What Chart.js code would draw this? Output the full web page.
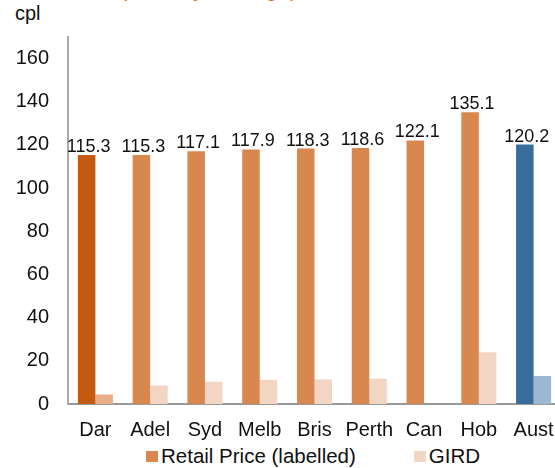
<!DOCTYPE html>
<html>
<head>
<meta charset="utf-8">
<script src="https://cdn.jsdelivr.net/npm/chart.js@4"></script>
<style>
html, body { margin: 0; padding: 0; overflow: hidden; background: #fff; }
body { width: 555px; height: 468px; position: relative; font-family: "Liberation Sans", Arial, sans-serif; }
#wrap { position: absolute; left: 0; top: 0; width: 561px; height: 442px; }
.txt { position: absolute; white-space: nowrap; }
#title { left: 120px; top: -22px; font-size: 22px; line-height: 22px; color: #e46c0a; }
#unit { left: 15px; top: 3px; font-size: 20px; line-height: 20px; color: #111; }
#legend { left: 146px; top: 446px; font-size: 20.5px; line-height: 20px; color: #111; display: flex; align-items: center; }
#legend span.box { display: inline-block; width: 12px; height: 11px; margin-right: 3px; }
</style>
</head>
<body>
<div id="title" class="txt">(monthly average)</div>
<div id="unit" class="txt">cpl</div>
<div id="wrap"><canvas id="bars"></canvas></div>
<div id="legend" class="txt"></div>
<script>
// data
var cities = ['Dar', 'Adel', 'Syd', 'Melb', 'Bris', 'Perth', 'Can', 'Hob', 'Aust'];
var retailPrice = [115.3, 115.3, 117.1, 117.9, 118.3, 118.6, 122.1, 135.1, 120.2];
var gird = [4.4, 8.6, 10.3, 11.2, 11.4, 11.7, null, 24.0, 13.0];
var yTicks = [0, 20, 40, 60, 80, 100, 120, 140, 160];

// colours
var retailColours = ['#c55a11', '#d8874f', '#d8874f', '#d8874f', '#d8874f', '#d8874f', '#d8874f', '#d8874f', '#386c9b'];
var girdColours = ['#e8ae87', '#f2d5c2', '#f2d5c2', '#f2d5c2', '#f2d5c2', '#f2d5c2', '#f2d5c2', '#f2d5c2', '#9db8d3'];
var font = '"Liberation Sans", Arial, sans-serif';

// value labels over the retail bars
var barLabels = {
	id: 'barLabels',
	afterDatasetsDraw: function(chart) {
		var ctx = chart.ctx;
		var meta = chart.getDatasetMeta(0);
		ctx.save();
		ctx.font = '18px ' + font;
		ctx.fillStyle = '#111';
		ctx.textAlign = 'center';
		ctx.textBaseline = 'alphabetic';
		meta.data.forEach(function(bar, i) {
			ctx.fillText(retailPrice[i].toFixed(1), bar.x + 2, bar.y - 3);
		});
		ctx.restore();
	}
};

var ctx = document.getElementById('bars');
var myChart = new Chart(ctx, {
	type: 'bar',
	data: {
		labels: cities,
		datasets: [{
			label: 'Retail Price (labelled)',
			data: retailPrice,
			backgroundColor: retailColours,
			borderWidth: 0
		}, {
			label: 'GIRD',
			data: gird,
			backgroundColor: girdColours,
			borderWidth: 0
		}]
	},
	plugins: [barLabels],
	options: {
		responsive: true,
		maintainAspectRatio: false,
		animation: false,
		categoryPercentage: 0.64,
		barPercentage: 1.0,
		layout: { padding: { left: 15, top: 37, right: 0, bottom: 0 } },
		plugins: {
			legend: { display: false },
			tooltip: { enabled: false }
		},
		scales: {
			x: {
				grid: { display: false, drawTicks: false },
				border: { display: true, color: '#999', width: 2 },
				ticks: { color: '#111', font: { family: font, size: 20 }, padding: 14, maxRotation: 0, autoSkip: false },
				afterFit: function(axis) {
					axis.height = 38;
					axis.paddingLeft = 0;
					axis.paddingRight = 0;
				}
			},
			y: {
				min: 0,
				max: 170,
				grid: { display: false, drawTicks: false },
				border: { display: true, color: '#aaa', width: 2 },
				ticks: { stepSize: 20, color: '#111', font: { family: font, size: 20 }, padding: 19 },
				afterBuildTicks: function(axis) {
					axis.ticks = yTicks.map(function(v) { return { value: v }; });
				},
				afterFit: function(axis) {
					axis.width = 53;
					axis.paddingTop = 0;
					axis.paddingBottom = 0;
				}
			}
		}
	}
});

// legend
var legend = document.getElementById('legend');
[['Retail Price (labelled)', '#d8874f', 58], ['GIRD', '#f2d5c2', 0]].forEach(function(item) {
	var box = document.createElement('span');
	box.className = 'box';
	box.style.background = item[1];
	var label = document.createElement('span');
	label.textContent = item[0];
	label.style.marginRight = item[2] + 'px';
	legend.appendChild(box);
	legend.appendChild(label);
});
</script>
</body>
</html>
